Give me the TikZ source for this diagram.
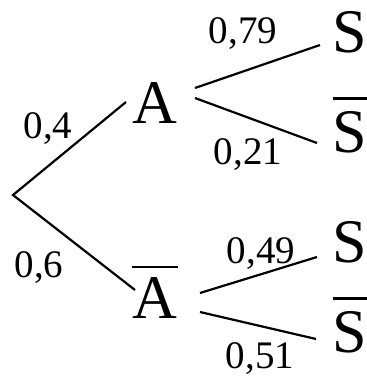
\documentclass[tikz,border=0pt]{standalone}
\usepackage{fontspec}
\setmainfont{Liberation Serif}
\begin{document}
\begin{tikzpicture}[x=1pt,y=-1pt,
  lbl/.style={inner sep=0pt, anchor=base, font=\fontsize{39}{39}\selectfont},
  ev/.style={inner sep=0pt, anchor=base, font=\fontsize{62}{62}\selectfont},
  br/.style={line width=2.2pt},
  ovl/.style={line width=2.6pt}]
\useasboundingbox (0,0) rectangle (367,376);
% event nodes
\node[ev] (A)  at (155,123) {A};
\node[ev] (Ab) at (155,318) {A};
\node[ev] (S1) at (350,52)  {S};
\node[ev] (S2) at (350,152) {S};
\node[ev] (S3) at (350,262) {S};
\node[ev] (S4) at (350,352) {S};
% overlines
\draw[ovl] ([yshift=10pt]Ab.north west) -- ([yshift=10pt]Ab.north east);
\draw[ovl] ([yshift=12pt]S2.north west) -- ([yshift=12pt]S2.north east);
\draw[ovl] ([yshift=12pt]S4.north west) -- ([yshift=12pt]S4.north east);
% connector end points
\coordinate (R) at (13,195);
\coordinate (Ain) at (126,102);
\coordinate (Abin) at (135,290);
\coordinate (Ao1) at (195,88);
\coordinate (Ao2) at (195,98);
\coordinate (S1in) at (320,45);
\coordinate (S2in) at (317,143);
\coordinate (Abo1) at (200,293);
\coordinate (Abo2) at (200,312);
\coordinate (S3in) at (317,257);
\coordinate (S4in) at (316,339);
% branches
\draw[br] (Ain) -- (R) -- (Abin);
\draw[br] (Ao1) -- (S1in);
\draw[br] (Ao2) -- (S2in);
\draw[br] (Abo1) -- (S3in);
\draw[br] (Abo2) -- (S4in);
% probabilities
\node[lbl] (p1) at (48,138) {0,4};
\node[lbl] (p2) at (39,277) {0,6};
\node[lbl] (p3) at (243,43) {0,79};
\node[lbl] (p4) at (248,164) {0,21};
\node[lbl] (p5) at (261,263) {0,49};
\node[lbl] (p6) at (260,368) {0,51};
\end{tikzpicture}
\end{document}
